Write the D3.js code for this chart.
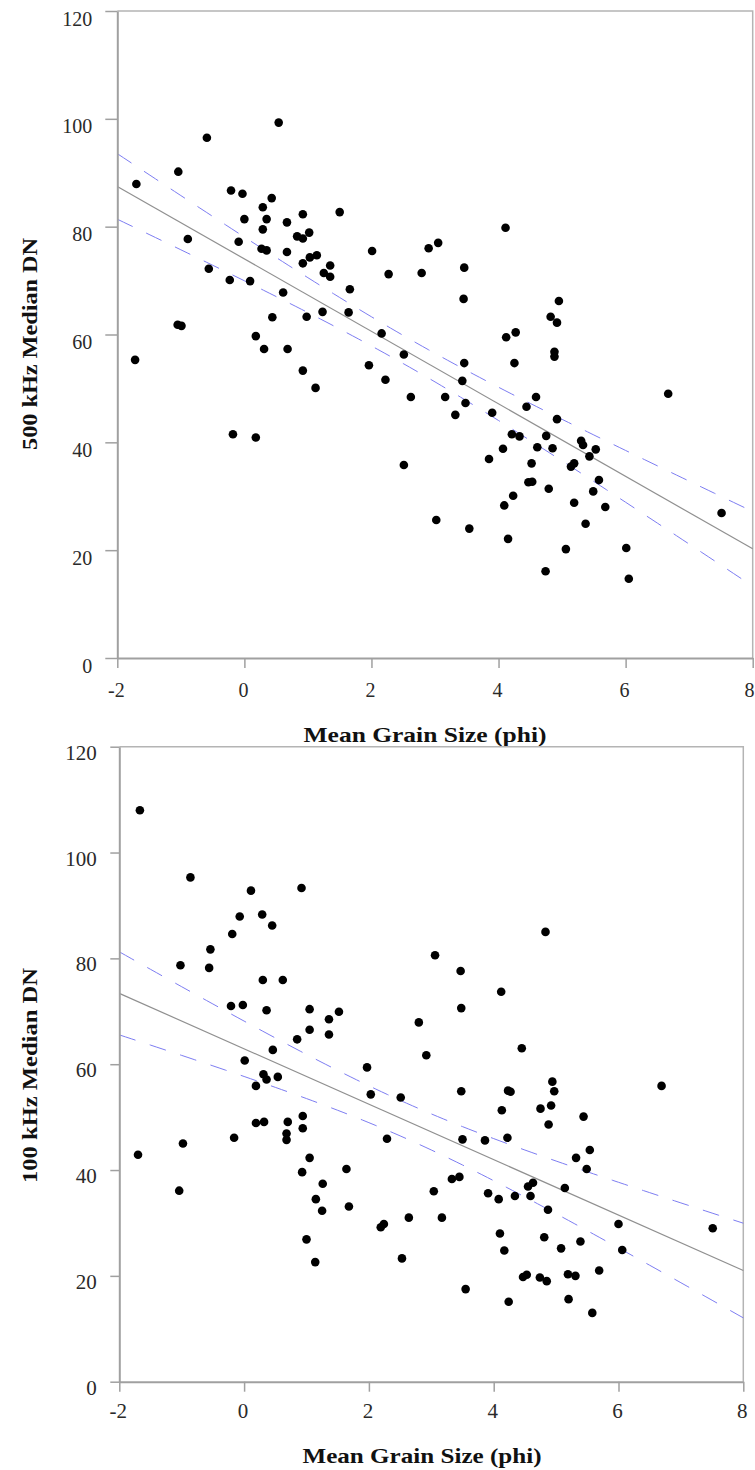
<!DOCTYPE html>
<html>
<head>
<meta charset="utf-8">
<script src="https://cdn.jsdelivr.net/npm/d3@7"></script>
<style>
  html, body { margin: 0; padding: 0; background: #fff; }
  svg { display: block; }
  svg text { font-family: "Liberation Serif", "DejaVu Serif", serif; }
</style>
</head>
<body>
<svg id="chart" width="755" height="1470"></svg>
<script>
// ---------- DATA ----------
const xTicks = [-2, 0, 2, 4, 6, 8];
const yTicks = [0, 20, 40, 60, 80, 100, 120];
const xTitle = "Mean Grain Size (phi)";
const yTitles = ["500 kHz Median DN", "100 kHz Median DN"];

// 500 kHz panel
const topX = [-1.70,-1.04,-0.59,0.54,-0.89,-0.56,-1.05,-0.99,-1.72,-0.21,
 -0.03,0.00,-0.09,-0.23,0.09,0.29,0.43,0.35,0.29,0.27,
 0.35,0.67,0.92,0.83,0.92,1.02,0.67,0.92,1.03,1.14,
 1.25,1.35,1.35,1.50,0.61,0.44,0.98,1.23,1.66,1.64,
 2.01,0.18,0.31,0.68,2.16,4.11,2.90,3.05,2.27,2.79,
 3.46,3.45,4.95,4.82,4.92,4.12,4.27,2.51,4.88,4.88,
 -0.18,0.18,0.92,1.12,1.96,3.46,4.25,2.22,3.43,2.62,
 3.16,3.48,3.32,3.90,4.59,4.44,4.92,6.67,4.21,4.33,
 4.75,4.07,4.61,4.85,5.30,5.33,5.53,5.43,2.51,3.85,
 4.52,5.14,5.19,4.47,4.53,4.79,5.58,5.49,4.23,4.09,
 5.19,5.68,3.02,3.54,5.37,4.15,5.06,6.01,4.74,6.05,
 7.51];
const topY = [87.9,90.2,96.5,99.3,77.7,72.2,61.8,61.6,55.3,86.7,
 86.1,81.4,77.2,70.1,69.9,83.6,85.3,81.4,79.5,75.9,
 75.6,80.8,82.3,78.2,77.8,78.9,75.3,73.2,74.3,74.7,
 71.4,70.7,72.8,82.7,67.8,63.2,63.3,64.2,68.4,64.1,
 75.5,59.7,57.3,57.3,60.2,79.8,76.0,77.0,71.2,71.4,
 72.4,66.6,66.2,63.3,62.2,59.5,60.4,56.3,56.8,55.9,
 41.5,40.9,53.3,50.1,54.3,54.7,54.7,51.6,51.4,48.4,
 48.4,47.3,45.1,45.5,48.4,46.6,44.3,49.0,41.5,41.1,
 41.2,38.8,39.1,38.9,40.3,39.5,38.7,37.4,35.8,36.9,
 36.1,35.5,36.1,32.6,32.7,31.4,33.0,30.9,30.1,28.3,
 28.8,28.0,25.6,24.0,24.9,22.1,20.2,20.4,16.1,14.7,
 26.9];

// 100 kHz panel
const botX = [-1.67,-0.86,0.11,0.92,-0.07,0.29,0.45,-0.19,-0.54,-1.02,
 -0.56,0.30,0.62,-0.21,-0.02,0.36,1.05,1.52,1.36,1.05,
 1.36,0.85,0.46,0.01,1.97,4.83,3.06,3.47,4.12,3.48,
 2.80,2.92,4.45,0.31,0.36,0.54,0.19,2.03,0.19,0.32,
 0.70,0.94,0.94,0.68,0.68,-0.16,-0.98,-1.70,1.05,0.93,
 1.64,-1.04,1.26,1.15,1.25,1.68,1.00,1.14,2.19,2.24,
 2.51,3.48,4.23,4.27,4.94,4.97,4.92,4.75,4.13,4.88,
 5.44,6.69,2.29,3.50,3.86,4.22,5.54,5.32,5.49,3.33,
 3.45,3.04,3.91,4.08,4.34,4.55,4.63,4.59,5.14,4.87,
 2.64,3.17,6.00,7.51,4.10,4.81,5.39,5.08,4.17,6.06,
 2.53,4.47,4.53,4.74,4.85,5.19,5.31,5.69,3.55,4.24,
 5.20,5.58];
const botY = [108.0,95.3,92.8,93.3,87.9,88.3,86.2,84.6,81.7,78.7,
 78.2,75.9,75.9,71.0,71.2,70.2,70.4,69.9,68.5,66.5,
 65.6,64.7,62.7,60.7,59.4,85.0,80.6,77.6,73.7,70.6,
 67.9,61.7,63.0,58.1,57.1,57.6,55.9,54.3,48.9,49.1,
 49.1,50.2,47.9,46.9,45.7,46.1,45.0,42.9,42.3,39.6,
 40.2,36.1,37.4,34.5,32.3,33.1,26.9,22.6,29.2,29.8,
 53.7,54.9,55.0,54.8,56.7,54.9,52.2,51.6,51.3,48.6,
 50.1,55.9,45.9,45.8,45.6,46.1,43.8,42.3,40.2,38.3,
 38.7,36.0,35.6,34.5,35.1,36.9,37.6,35.1,36.6,32.5,
 31.0,31.0,29.8,29.0,28.0,27.3,26.5,25.2,24.8,24.9,
 23.3,19.8,20.2,19.7,19.0,20.3,20.0,21.0,17.5,15.1,
 15.6,13.0];

// ---------- LAYOUT ----------
const svg = d3.select("#chart");
svg.append("rect").attr("width", 755).attr("height", 1470).attr("fill", "#fff");

const panels = [
  { xs: topX, ys: topY, yTitle: yTitles[0],
    left: 117.3, right: 752.7, top: 11, bottom: 658,
    yTick: 12, xTick: 10, yLabX: -25, yLabDy: 14, xLabY: 38.7, lblSize: 20,
    yTitleX: 37, yTitleY: 344, yTitleLen: 212,
    xTitleX: 425, xTitleY: 741.7, xTitleLen: 243 },
  { xs: botX, ys: botY, yTitle: yTitles[1],
    left: 119.3, right: 743.3, top: 746.7, bottom: 1381.7,
    yTick: 9, xTick: 10, yLabX: -22.6, yLabDy: 12.5, xLabY: 36.3, lblSize: 21,
    yTitleX: 37, yTitleY: 1075.5, yTitleLen: 215,
    xTitleX: 422, xTitleY: 1463, xTitleLen: 239 }
];

const serif = "Liberation Serif, DejaVu Serif, serif";

panels.forEach(p => {
  const x = d3.scaleLinear().domain([xTicks[0], xTicks[xTicks.length - 1]]).range([p.left, p.right]);
  const y = d3.scaleLinear().domain([yTicks[0], yTicks[yTicks.length - 1]]).range([p.bottom, p.top]);
  const g = svg.append("g").attr("font-family", serif);

  // frame (top & right)
  g.append("path")
    .attr("d", `M${x(xTicks[0])},${y(yTicks[yTicks.length-1])}H${x(xTicks[xTicks.length-1])}V${y(yTicks[0])}`)
    .attr("fill", "none").attr("stroke", "#b4b4b4").attr("stroke-width", 1.5);

  // regression + 95% CI of the mean, computed from the points
  const data = p.xs.map((v, i) => ({ x: v, y: p.ys[i] }));
  const n = data.length;
  const mx = d3.mean(data, d => d.x), my = d3.mean(data, d => d.y);
  const sxx = d3.sum(data, d => (d.x - mx) ** 2);
  const sxy = d3.sum(data, d => (d.x - mx) * (d.y - my));
  const b = sxy / sxx, a = my - b * mx;
  const sse = d3.sum(data, d => (d.y - (a + b * d.x)) ** 2);
  const s = Math.sqrt(sse / (n - 2));
  const t = 1.982;
  const hw = xv => t * s * Math.sqrt(1 / n + (xv - mx) ** 2 / sxx);
  const xs = d3.range(0, 101).map(i => xTicks[0] + (xTicks[xTicks.length-1] - xTicks[0]) * i / 100);

  const line = d3.line().x(d => x(d[0])).y(d => y(d[1]));
  [1, -1].forEach(sign => {
    g.append("path").datum(xs.map(v => [v, a + b * v + sign * hw(v)]))
      .attr("d", line).attr("fill", "none").attr("stroke", "#7d7df2")
      .attr("stroke-width", 1).attr("stroke-dasharray", "17 15");
  });
  g.append("path").datum([xTicks[0], xTicks[xTicks.length-1]].map(v => [v, a + b * v]))
    .attr("d", line).attr("fill", "none").attr("stroke", "#909090").attr("stroke-width", 1.2);

  // axes
  const yAxis = d3.axisLeft(y).tickValues(yTicks).tickSize(p.yTick).tickSizeOuter(0).tickFormat(d => String(d));
  const ya = g.append("g").attr("transform", `translate(${p.left},0)`).call(yAxis);
  const xAxis = d3.axisBottom(x).tickValues(xTicks).tickSize(p.xTick).tickSizeOuter(0).tickFormat(d => String(d));
  const xa = g.append("g").attr("transform", `translate(0,${p.bottom})`).call(xAxis);

  [ya, xa].forEach(ax => {
    ax.attr("font-family", serif).attr("font-size", p.lblSize);
    ax.select(".domain").attr("stroke", "#a0a0a0").attr("stroke-width", 2);
    ax.selectAll(".tick line").attr("stroke", "#a0a0a0").attr("stroke-width", 1.5);
    ax.selectAll(".tick text").attr("fill", "#2a2a2a");
  });
  ya.selectAll(".tick text").attr("x", p.yLabX).attr("dy", null).attr("y", p.yLabDy).attr("text-anchor", "end");
  xa.selectAll(".tick text").attr("y", p.xLabY).attr("dy", null)
    .attr("x", d => (x(d) + 6 > 755 ? 755 - x(d) - 6 : -1.5));

  // points
  g.append("g").selectAll("circle").data(data).join("circle")
    .attr("cx", d => x(d.x)).attr("cy", d => y(d.y)).attr("r", 4.3).attr("fill", "#000");

  // titles
  g.append("text").text(xTitle)
    .attr("x", p.xTitleX).attr("y", p.xTitleY).attr("text-anchor", "middle")
    .attr("textLength", p.xTitleLen).attr("lengthAdjust", "spacingAndGlyphs")
    .attr("font-family", serif).attr("font-weight", "bold").attr("font-size", 21).attr("fill", "#111");
  g.append("text").text(p.yTitle)
    .attr("transform", `translate(${p.yTitleX},${p.yTitleY}) rotate(-90)`)
    .attr("text-anchor", "middle")
    .attr("textLength", p.yTitleLen).attr("lengthAdjust", "spacingAndGlyphs")
    .attr("font-family", serif).attr("font-weight", "bold").attr("font-size", 20).attr("fill", "#111");
});
</script>
</body>
</html>
